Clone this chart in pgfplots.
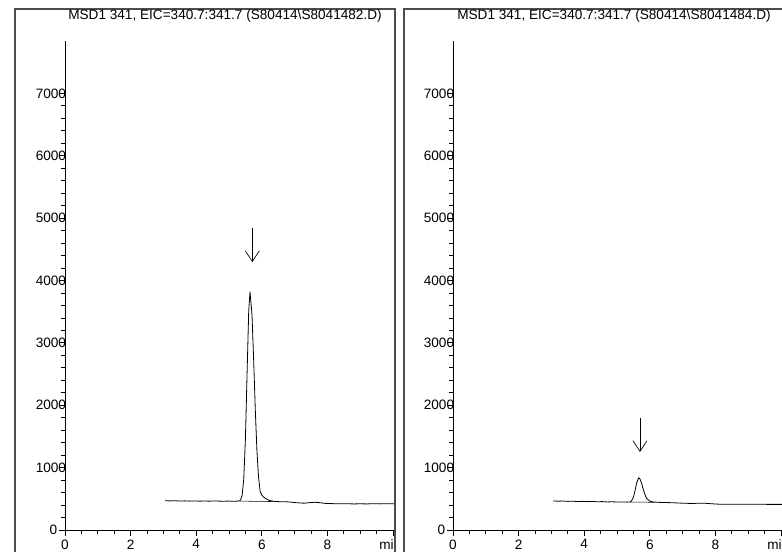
\documentclass[border=0pt]{standalone}
\usepackage{fontspec}
\setmainfont{Liberation Sans}
\usepackage{pgfplots}
\pgfplotsset{compat=1.18}
\usetikzlibrary{arrows.meta}
\newcommand\lbl{\fontsize{10.2pt}{12pt}\selectfont}
\pgfplotsset{
  chrom/.style={
    scale only axis, width=247.5pt, height=366.75pt, anchor=south west,
    xmin=0, xmax=10.06, ymin=0, ymax=7840,
    axis x line*=bottom, axis y line*=left,
    axis line style={-, line width=0.6pt},
    tick align=outside, major tick length=4.5pt, minor tick length=3pt,
    every tick/.style={line width=0.6pt, black},
    xtick={0,2,4,6,8,10}, xticklabels={0,2,4,6,8,{\kern-4pt min}},
    minor x tick num=3,
    ytick={0,1000,...,7000},
    yticklabels={{0\kern6.75pt},1000,2000,3000,4000,5000,6000,7000},
    minor y tick num=4,
    /pgf/number format/assume math mode=true,
    tick label style={font=\lbl},
    xticklabel style={anchor=north, inner sep=0pt, yshift=-2.5pt},
    yticklabel style={anchor=east, inner sep=0pt, xshift=5.5pt},
    clip=true,
  },
  trace/.style={black, line width=0.6pt},
  pointer/.style={black, line width=0.5pt, -{Straight Barb[length=8pt,width=10.5pt]}},
}
\begin{document}
\lbl
\begin{tikzpicture}
\useasboundingbox (0,0) rectangle (586.5pt,414pt);
\clip (0,0) rectangle (586.5pt,414pt);

% left chromatogram
\begin{scope}
\clip (11.25pt,-5pt) rectangle (296.25pt,420pt);
\begin{axis}[chrom, at={(48.75pt,16.5pt)}]
\addplot[trace] coordinates {
(3.05,470)(3.2,466)(3.35,470)(3.5,464)(3.65,467)(3.8,463)(3.95,466)(4.1,462)
(4.25,465)(4.4,462)(4.55,466)(4.7,463)(4.85,461)(5.0,464)(5.1,460)(5.2,462)
(5.3,464)(5.35,479)(5.4,556)(5.45,822)(5.5,1461)(5.55,2498)(5.6,3504)(5.64,3820)
(5.7,3455)(5.75,2742)(5.8,1941)(5.85,1279)(5.9,847)(5.95,615)(6.0,560)(6.05,530)
(6.1,510)(6.15,495)(6.2,482)(6.3,465)(6.4,458)(6.5,455)(6.6,452)(6.7,454)
(6.8,450)(6.9,446)(7.0,440)(7.1,436)(7.2,432)(7.3,430)(7.4,436)(7.5,440)
(7.6,444)(7.7,442)(7.8,436)(7.9,428)(8.0,425)(8.2,422)(8.4,420)(8.6,421)
(8.8,418)(9.0,420)(9.2,418)(9.4,422)(9.6,419)(9.8,421)(10.06,420)};
\addplot[trace, line width=0.4pt] coordinates {(5.33,463)(6.35,456)};
\addplot[pointer] coordinates {(5.71,4840)(5.71,4295)};
\end{axis}
\end{scope}
\draw[black!70, line width=0.8pt] (11.25pt,-5pt) -- (11.25pt,407.25pt) -- (296.25pt,407.25pt) -- (296.25pt,-5pt);
\node[anchor=base, inner sep=0pt] at (168.75pt,399pt) {MSD1 341, EIC=340.7:341.7 (S80414\textbackslash S8041482.D)};

% right chromatogram
\begin{scope}
\clip (303pt,-5pt) rectangle (600pt,420pt);
\begin{axis}[chrom, at={(339.75pt,16.5pt)}]
\addplot[trace] coordinates {
(3.05,466)(3.2,462)(3.35,464)(3.5,459)(3.65,461)(3.8,457)(3.95,459)(4.1,455)
(4.25,457)(4.4,453)(4.55,455)(4.7,450)(4.85,452)(5.0,449)(5.15,450)(5.3,447)
(5.4,448)(5.45,473)(5.5,527)(5.55,632)(5.6,759)(5.66,837)(5.7,818)(5.75,748)
(5.8,655)(5.85,570)(5.9,509)(5.95,484)(6.0,465)(6.05,455)(6.1,450)(6.2,446)
(6.3,443)(6.5,440)(6.7,437)(6.9,432)(7.1,428)(7.3,425)(7.5,430)(7.7,428)
(7.9,420)(8.1,414)(8.4,413)(8.7,413)(9.0,412)(9.3,412)(9.6,411)(10.06,411)};
\addplot[trace, line width=0.4pt] coordinates {(5.4,448)(6.15,444)};
\addplot[pointer] coordinates {(5.70,1795)(5.70,1250)};
\end{axis}
\end{scope}
\draw[black!70, line width=0.8pt] (303pt,-5pt) -- (303pt,407.25pt) -- (600pt,407.25pt);
\node[anchor=base, inner sep=0pt] at (460.5pt,399pt) {MSD1 341, EIC=340.7:341.7 (S80414\textbackslash S8041484.D)};
\end{tikzpicture}
\end{document}
